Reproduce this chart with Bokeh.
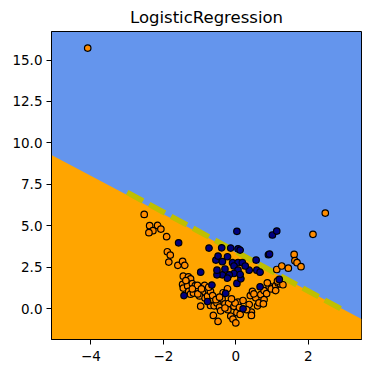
from bokeh.plotting import figure
from bokeh.models import FixedTicker, CustomJSTickFormatter, Range1d
from bokeh.embed import file_html
from bokeh.resources import INLINE
import numpy as np

# class 1 (orange) points
orange_x = [-4.09, 2.47, 2.13, -2.53, -2.38, -2.16, -2.29, -2.40, -2.07, -1.91,
            -1.89, -1.81, -1.85, -1.60, -1.47, -1.41, -1.45, -1.31, -1.25, -1.36,
            -1.47, -1.45, -1.33, -1.20, -1.12, -1.30, -1.25, -1.17, -1.06, -0.92,
            -1.00, -0.97, -0.86, -0.85, -0.78, -0.70, -0.64, -0.70, -0.60, -0.62,
            -0.49, -0.52, -0.45, -0.42, -0.35, -0.38, -0.30, -0.23, -0.20, -0.22,
            -0.14, -0.08, -0.05, 0.00, 0.06, -0.02, 0.03, 0.12, 0.10, 0.37,
            0.43, 0.43, 0.40, 0.46, 0.55, 0.60, 0.64, 0.69, 0.78, 0.78,
            0.76, 0.92, 0.87, 0.85, 0.98, 1.10, 1.17, 1.24, 1.10, 1.15,
            1.13, 1.27, 1.45, 1.61, 1.63, 1.69, 1.80, -1.20, -1.05, -0.55,
            -0.45, -0.30, -0.12, 0.20, 0.30, -1.38, -0.95, 0.50, 1.30, -0.75]
orange_y = [15.72, 5.77, 4.49, 5.69, 5.01, 5.03, 4.71, 4.59, 4.81, 4.35,
            3.44, 3.24, 2.82, 2.62, 2.86, 2.62, 1.97, 1.92, 1.80, 1.59,
            1.47, 1.25, 1.38, 1.52, 1.40, 1.05, 0.88, 0.95, 1.41, 1.00,
            0.78, 0.16, 1.41, 0.65, 0.76, 1.05, 0.80, 0.20, 0.18, -0.40,
            -0.76, 0.35, 0.10, -0.12, 0.97, 0.60, 0.30, 1.21, 0.32, -0.05,
            -0.44, -0.62, 0.15, -0.85, 0.40, 0.35, -0.22, -0.34, 0.08, 0.26,
            -0.20, -0.40, 0.80, 1.05, 0.66, 0.18, 0.36, 0.86, 0.56, 1.10,
            0.30, 1.36, 1.57, 0.92, 1.20, 1.40, 1.55, 1.48, 1.10, 1.67,
            2.37, 2.58, 2.45, 3.28, 2.90, 2.78, 2.54, 1.20, 0.90, 0.55,
            0.70, 0.05, 0.60, 0.50, -0.05, 1.70, 1.20, 0.90, 1.45, 1.30]

# class 0 (navy) points
navy_x = [-1.58, -0.74, -0.39, 0.03, 1.01, 1.13, -0.97, -1.43, -0.78, -0.66,
          -0.28, 0.20, 0.03, 0.14, 0.67, 0.90, 0.93, 0.56, 0.37, 0.58,
          0.67, -0.14, 0.06, 0.12, -0.23, -0.09, 0.06, 0.18, 0.26, -0.05,
          0.06, -0.05, 0.12, -0.18, -0.37, -0.52, -0.52, -0.23, -0.55, -0.49,
          -0.37, -0.30, 1.20]
navy_y = [3.98, 3.66, 3.68, 4.67, 4.45, 4.69, 2.21, 0.80, 0.44, 1.43,
          0.93, 0.00, 1.53, 1.81, 1.33, 3.26, 3.30, 2.94, 2.33, 2.33,
          2.21, 3.66, 3.62, 3.54, 3.14, 2.78, 2.78, 2.78, 2.58, 2.58,
          2.33, 2.13, 2.07, 2.05, 2.05, 2.05, 2.33, 1.85, 2.94, 3.18,
          2.84, 2.40, 1.77]

# decision boundary (region) and the plotted dashed boundary line
bnd_intercept = 3.40
bnd_slope = -1.155
line_x = [-3.0, 3.0]
line_y = [7.02, -0.12]

all_x = orange_x + navy_x
all_y = orange_y + navy_y
x_min, x_max = min(all_x) - 1, max(all_x) + 1
y_min, y_max = min(all_y) - 1, max(all_y) + 1

p = figure(title="LogisticRegression", output_backend="svg", toolbar_location=None,
           frame_width=310, frame_height=308,
           min_border_left=51, min_border_right=8, min_border_top=10, min_border_bottom=26,
           x_range=Range1d(x_min, x_max), y_range=Range1d(y_min, y_max))
p.background_fill_color = "#6495ED"
p.border_fill_color = "white"
p.outline_line_color = "black"
p.outline_line_width = 1
p.grid.visible = False

p.title.align = "center"
p.title.text_font = "DejaVu Sans"
p.title.text_font_size = "16.5px"
p.title.text_font_style = "normal"
p.title.text_color = "black"

bx = np.array([x_min, x_max])
p.varea(x=bx, y1=[y_min, y_min], y2=bnd_intercept + bnd_slope * bx, fill_color="#FFA500")

p.line(line_x, line_y, line_color="#BFBF00", line_width=5.5, line_dash="18 7")

p.scatter(orange_x, orange_y, size=6.5, fill_color="#FF8C00", line_color="black", line_width=1.2)
p.scatter(navy_x, navy_y, size=6.5, fill_color="#000080", line_color="black", line_width=1.2)

p.xaxis.ticker = FixedTicker(ticks=[-4, -2, 0, 2])
p.yaxis.ticker = FixedTicker(ticks=[0, 2.5, 5, 7.5, 10, 12.5, 15])
p.xaxis.formatter = CustomJSTickFormatter(code="return tick.toString().replace('-', '\\u2212');")
p.yaxis.formatter = CustomJSTickFormatter(code="return tick.toFixed(1);")
for ax in (p.xaxis, p.yaxis):
    ax.major_tick_out = 5
    ax.major_tick_in = 0
    ax.minor_tick_line_color = None
    ax.axis_line_color = "black"
    ax.major_tick_line_color = "black"
    ax.major_label_text_font = "DejaVu Sans"
    ax.major_label_text_font_size = "13.5px"
    ax.major_label_text_color = "black"
    ax.major_label_standoff = 4
p.xaxis.major_label_standoff = 6

open("out.html", "w").write(file_html(p, INLINE))
